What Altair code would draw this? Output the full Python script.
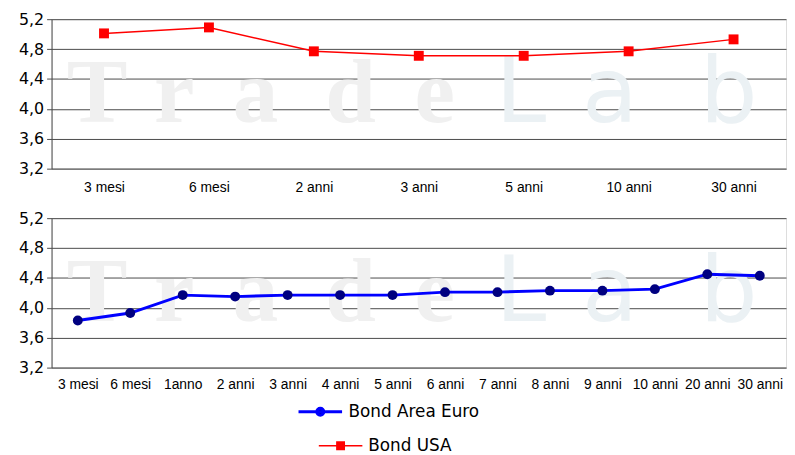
import altair as alt
import pandas as pd

# ---------------- data ----------------
usa_categories = ["3 mesi", "6 mesi", "2 anni", "3 anni", "5 anni", "10 anni", "30 anni"]
usa_values = [5.01, 5.09, 4.77, 4.71, 4.71, 4.77, 4.93]

euro_categories = ["3 mesi", "6 mesi", "1anno", "2 anni", "3 anni", "4 anni", "5 anni",
                   "6 anni", "7 anni", "8 anni", "9 anni", "10 anni", "20 anni", "30 anni"]
euro_values = [3.83, 3.93, 4.17, 4.15, 4.17, 4.17, 4.17,
               4.21, 4.21, 4.23, 4.23, 4.25, 4.45, 4.43]

y_ticks = [3.2, 3.6, 4.0, 4.4, 4.8, 5.2]
usa_name = "Bond USA"
euro_name = "Bond Area Euro"
watermark_letters = ["T", "r", "a", "d", "e", "L", "a", "b"]

usa_df = pd.DataFrame({"cat": usa_categories, "val": usa_values, "series": usa_name})
euro_df = pd.DataFrame({"cat": euro_categories, "val": euro_values, "series": euro_name})

# ---------------- style ----------------
W = 742
H = 151
RED = "#FF0000"
BLUE = "#0000FF"
NAVY = "#000080"
GRID = "#4a4a4a"

wm_x = [46, 124, 206, 302, 387, 474, 564, 684]
wm_font = ["Liberation Serif"] * 5 + ["DejaVu Sans"] * 3
wm_weight = ["bold"] * 5 + ["normal"] * 3
wm_color = ["#f0f0f0"] * 5 + ["#ebf1f4"] * 3

euro_path = ("M-2,0H2M0.32,0A0.32,0.32,0,1,1,-0.32,0A0.32,0.32,0,1,1,0.32,0Z")
usa_path = "M-2,0H2M-0.34,-0.34H0.34V0.34H-0.34Z"


def y_enc():
    return alt.Y(
        "val:Q",
        scale=alt.Scale(domain=[3.2, 5.2], nice=False, zero=False),
        axis=alt.Axis(
            values=y_ticks,
            labelExpr="replace(format(datum.value, '.1f'), '.', ',')",
            title=None,
            grid=True,
            gridColor=GRID,
            gridWidth=1,
            domain=True,
            domainColor=GRID,
            ticks=True,
            tickColor=GRID,
            tickSize=5,
            labelFont="DejaVu Sans",
            labelFontSize=16,
            labelColor="#000000",
            labelPadding=3,
            minExtent=43,
        ),
    )


def x_enc(cats, pad):
    return alt.X(
        "cat:N",
        sort=cats,
        scale=alt.Scale(domain=cats),
        axis=alt.Axis(
            title=None,
            labelAngle=0,
            ticks=False,
            grid=False,
            domain=True,
            domainColor="#777777",
            labelFont="Liberation Sans",
            labelFontSize=14,
            labelColor="#000000",
            labelPadding=pad,
            labelOverlap=False,
        ),
    )


def watermark():
    layers = []
    one = pd.DataFrame({"k": [0]})
    for ch, xx, f, wgt, c in zip(watermark_letters, wm_x, wm_font, wm_weight, wm_color):
        layers.append(
            alt.Chart(one).mark_text(
                text=ch, font=f, fontWeight=wgt, fontSize=92, color=c,
                align="center", baseline="alphabetic"
            ).encode(x=alt.value(xx), y=alt.value(104))
        )
    return layers


# ---------------- top chart (USA) ----------------
top_line = alt.Chart(usa_df).mark_line(color=RED, strokeWidth=1.5).encode(
    x=x_enc(usa_categories, 12), y=y_enc()
)
top_pts = alt.Chart(usa_df).mark_point(
    filled=True, shape="square", size=100, color=RED, opacity=1
).encode(x=x_enc(usa_categories, 12), y=y_enc())

top = alt.layer(*watermark(), top_line, top_pts).properties(width=W, height=H)

# ---------------- bottom chart (Euro) ----------------
bot_line = alt.Chart(euro_df).mark_line(color=BLUE, strokeWidth=3).encode(
    x=x_enc(euro_categories, 10), y=y_enc()
)
bot_pts = alt.Chart(euro_df).mark_point(
    filled=True, shape="circle", size=100, color=NAVY, opacity=1
).encode(x=x_enc(euro_categories, 10), y=y_enc())


def legend_layer(df, name, path, stroke_c, fill_c, sw, lx, ly):
    leg = alt.Legend(
        orient="none", legendX=lx, legendY=ly, title=None,
        labelFont="DejaVu Sans", labelFontSize=17, labelColor="#000000",
        symbolSize=484, symbolStrokeWidth=sw, symbolOpacity=1, labelOffset=16,
    )
    return alt.Chart(df).mark_point(opacity=0, size=484, strokeWidth=sw).encode(
        shape=alt.Shape("series:N", scale=alt.Scale(domain=[name], range=[path]), legend=leg),
        fill=alt.Fill("series:N", scale=alt.Scale(domain=[name], range=[fill_c]), legend=leg),
        stroke=alt.Stroke("series:N", scale=alt.Scale(domain=[name], range=[stroke_c]), legend=leg),
    )


leg_euro = legend_layer(euro_df, euro_name, euro_path, BLUE, NAVY, 3, 259, 183)
leg_usa = legend_layer(usa_df, usa_name, usa_path, RED, RED, 1.5, 280, 218)

bottom = (
    alt.layer(*watermark(), bot_line, bot_pts, leg_euro, leg_usa)
    .resolve_scale(shape="independent", fill="independent", stroke="independent")
    .resolve_legend(shape="independent", fill="independent", stroke="independent")
    .properties(width=W, height=H)
)

chart = (
    alt.vconcat(top, bottom, spacing=14)
    .resolve_scale(shape="independent", fill="independent", stroke="independent")
    .resolve_legend(shape="independent", fill="independent", stroke="independent")
    .properties(padding={"left": 0, "top": 0, "right": 0, "bottom": 0})
    .configure_view(strokeWidth=0)
    .configure(background="#FFFFFF")
)

chart.save("out.html", embed_options={"renderer": "svg", "actions": False})
